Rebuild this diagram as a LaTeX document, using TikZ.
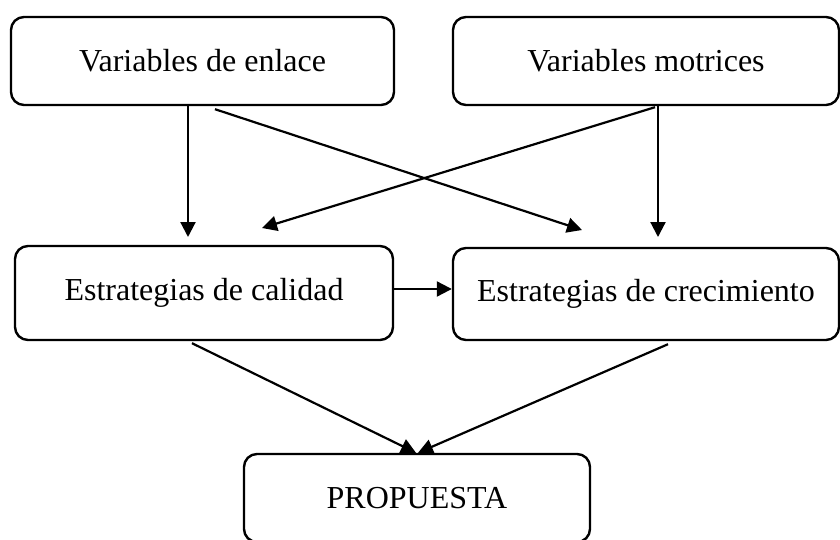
\documentclass[tikz,border=0pt]{standalone}
\usepackage{fontspec}
\setmainfont{Liberation Serif}
\usetikzlibrary{arrows.meta,calc}
\begin{document}
\begin{tikzpicture}[x=0.5pt,y=-0.5pt,
  boxnode/.style={draw,line width=1.2pt,rounded corners=6.5pt,inner sep=0pt,
    font=\fontsize{16}{19}\selectfont,text=black},
  arr/.style={line width=1.1pt,-{Triangle[length=7.5pt,width=7.5pt]}}]
\useasboundingbox (0,0) rectangle (840,540);
\node[boxnode,minimum width=191.5pt,minimum height=44pt] (b1) at (202.5,61) {Variables de enlace};
\node[boxnode,minimum width=193pt,minimum height=44pt] (b2) at (646,61) {Variables motrices};
\node[boxnode,minimum width=189pt,minimum height=47pt] (b3) at (204,293) {Estrategias de calidad};
\node[boxnode,minimum width=193pt,minimum height=46pt] (b4) at (646,294) {Estrategias de crecimiento};
\node[boxnode,minimum width=173pt,minimum height=44pt] (b5) at (417,498) {PROPUESTA};
\coordinate (t1) at (188,237);
\coordinate (t2) at (658,237);
\coordinate (t3) at (582,230);
\coordinate (t4) at (262,228);
\draw[arr] (b1.south -| t1) -- (t1);
\draw[arr] (b2.south -| t2) -- (t2);
\draw[arr] ([shift={(12.5,3)}]b1.south) -- (t3);
\draw[arr] ([shift={(9,1)}]b2.south) -- (t4);
\draw[arr] ([yshift=2pt]b3.east) -- ([yshift=2pt]b3.east -| b4.west);
\draw[arr] ([shift={(-12,2)}]b3.south) -- ([xshift=-0.5pt]b5.north);
\draw[arr] ([shift={(22,3)}]b4.south) -- ([xshift=0.5pt]b5.north);
\end{tikzpicture}
\end{document}
